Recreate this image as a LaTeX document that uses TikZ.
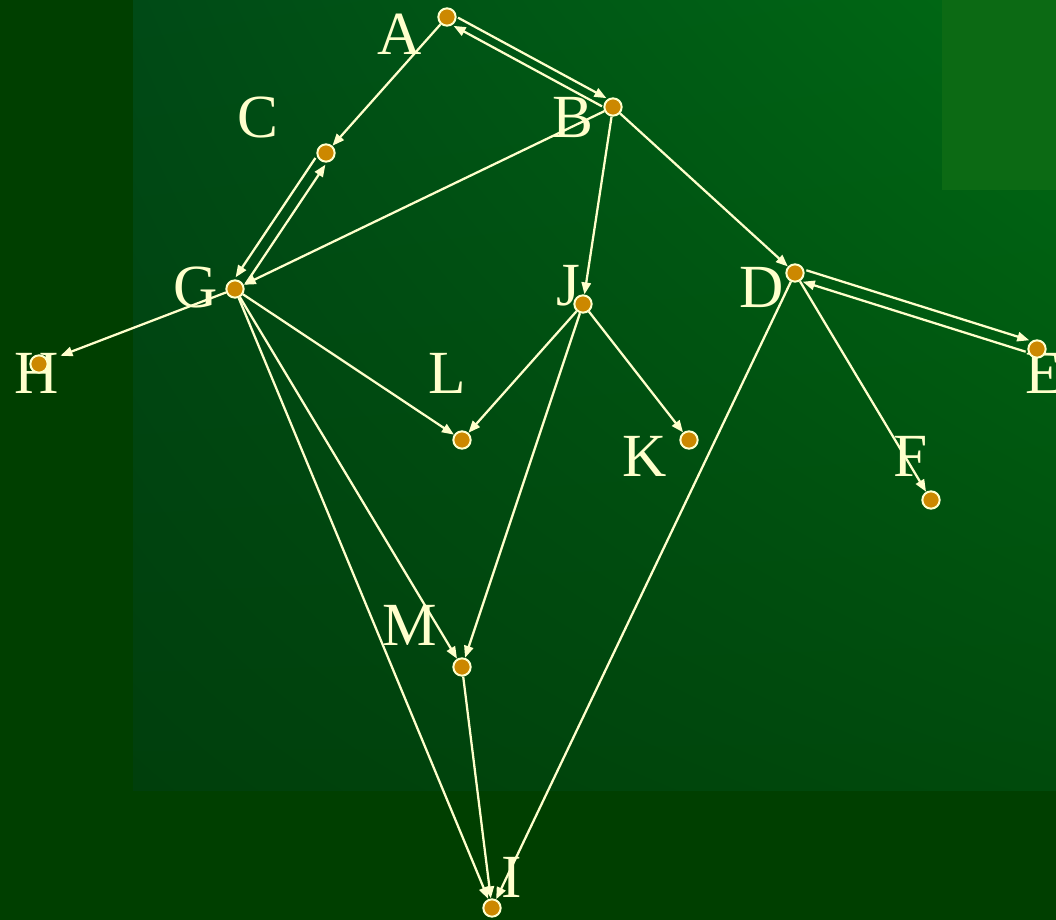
\documentclass[tikz,border=0pt]{standalone}
\usepackage{fontspec}
\setmainfont{Liberation Serif}
\usetikzlibrary{arrows.meta,calc,shadings}
\definecolor{cream}{HTML}{FFFFCC}
\definecolor{gold}{HTML}{CC8800}
\definecolor{bgbase}{HTML}{003F00}
\definecolor{bgul}{HTML}{004A16}
\definecolor{bgur}{HTML}{006A14}
\definecolor{bgll}{HTML}{003F0C}
\definecolor{bglr}{HTML}{004A0C}
\definecolor{bgpatch}{HTML}{0C6A14}
\tikzset{
  dot/.style={circle, fill=gold, draw=cream, line width=1.5pt, minimum size=13pt, inner sep=0pt},
  lbl/.style={text=cream, anchor=base, inner sep=0pt, font=\fontsize{46}{46}\selectfont},
  edge/.style={draw=cream, line width=1.7pt, -{Triangle[length=9pt,width=7pt]}},
  pedge/.style={edge, shorten <=7.5pt, shorten >=7.5pt},
}
\begin{document}
\begin{tikzpicture}[x=0.75pt,y=-0.75pt]
\useasboundingbox (0,0) rectangle (1056,920);
% background
\fill[bgbase] (0,0) rectangle (1056,920);
\shade[upper left=bgul, upper right=bgur, lower left=bgll, lower right=bglr] (133,0) rectangle (1056,790);
\fill[bgpatch] (942,0) rectangle (1056,190);
% labels
\node[lbl] (la) at (400,55) {A};
\node[lbl] (lb) at (573,138) {B};
\node[lbl] (lc) at (258,138) {C};
\node[lbl] (lg) at (196,307) {G};
\node[lbl] (lj) at (568,305) {J};
\node[lbl] (ld) at (762,307) {D};
\node[lbl] (le) at (1044,393) {E};
\node[lbl] (lh) at (37,393) {H};
\node[lbl] (ll) at (447,393) {L};
\node[lbl] (lk) at (645,476) {K};
\node[lbl] (lf) at (911,476) {F};
\node[lbl] (lm) at (410,645) {M};
\node[lbl] (li) at (512,897) {I};
% dots
\node[dot] (A) at (447,17) {};
\node[dot] (B) at (613,107) {};
\node[dot] (C) at (326,153) {};
\node[dot] (G) at (235,289) {};
\node[dot] (J) at (583,304) {};
\node[dot] (D) at (795,273) {};
\node[dot] (E) at (1037,349) {};
\node[dot] (H) at (39,364) {};
\node[dot] (L) at (462,440) {};
\node[dot] (K) at (689,440) {};
\node[dot] (F) at (931,500) {};
\node[dot] (M) at (462,667) {};
\node[dot] (I) at (492,908) {};
% paired edges
\draw[pedge] ($(A)!3.5pt!90:(B)$) -- ($(B)!3.5pt!-90:(A)$);
\draw[pedge] ($(B)!3.5pt!90:(A)$) -- ($(A)!3.5pt!-90:(B)$);
\draw[pedge] ($(D)!4.5pt!90:(E)$) -- ($(E)!4.5pt!-90:(D)$);
\draw[pedge] ($(E)!4.5pt!90:(D)$) -- ($(D)!4.5pt!-90:(E)$);
\draw[pedge] ($(C)!4.5pt!-90:(G)$) -- ($(G)!4.5pt!90:(C)$);
\draw[pedge] ($(G)!4.5pt!-90:(C)$) -- ($(C)!4.5pt!90:(G)$);
% single edges
\draw[edge] (A) -- (C);
\draw[edge] (B) -- (G);
\draw[edge] (B) -- (J);
\draw[edge] (B) -- (D);
\draw[edge] (D) -- (F);
\draw[edge] (D) -- (I);
\draw[edge, shorten >=10pt] (G) -- (H);
\draw[edge] (G) -- (L);
\draw[edge] (G) -- (M);
\draw[edge] (G) -- (I);
\draw[edge] (J) -- (L);
\draw[edge] (J) -- (M);
\draw[edge] (J) -- (K);
\draw[edge] (M) -- (I);
\end{tikzpicture}
\end{document}
